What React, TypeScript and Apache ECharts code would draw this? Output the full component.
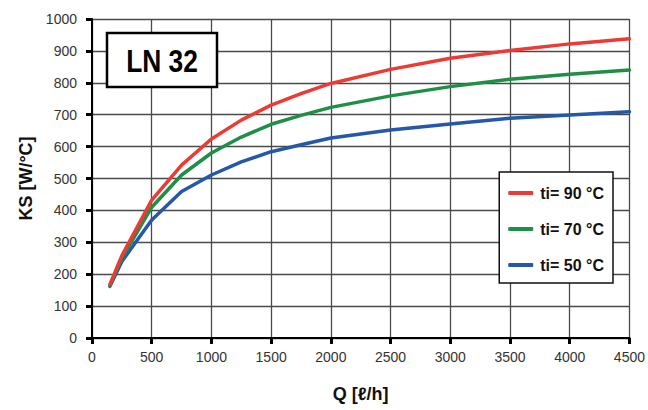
import React, { useEffect, useRef } from "react";
import * as echarts from "echarts";

const flowRates = [150, 250, 500, 750, 1000, 1250, 1500, 1750, 2000, 2500, 3000, 3500, 4000, 4500];
const ks90 = [168, 258, 432, 542, 624, 683, 730, 766, 798, 842, 877, 901, 922, 938];
const ks70 = [165, 250, 410, 511, 580, 630, 670, 698, 723, 759, 788, 811, 827, 840];
const ks50 = [162, 240, 370, 459, 511, 552, 584, 606, 627, 652, 671, 689, 699, 709];
const seriesNames = ["ti= 90 °C", "ti= 70 °C", "ti= 50 °C"];
const seriesColors = ["#ec3a35", "#1f8f48", "#2458a8"];
const modelLabel = "LN 32";
const xTitle = "Q [ℓ/h]";
const yTitle = "KS [W/°C]";

const font = "'Liberation Sans', Arial, sans-serif";

export default function App() {
  const ref = useRef<HTMLDivElement>(null);
  useEffect(() => {
    if (!ref.current) return;
    const chart = echarts.init(ref.current, undefined, { renderer: "svg" });
    const pairs = (ys: number[]) => flowRates.map((x, i) => [x, ys[i]]);
    const all = [ks90, ks70, ks50];
    chart.setOption({
      animation: false,
      backgroundColor: "#ffffff",
      grid: { left: 92, right: 18, top: 19, bottom: 72 },
      xAxis: {
        type: "value",
        min: 0,
        max: 4500,
        interval: 500,
        name: xTitle,
        nameLocation: "middle",
        nameGap: 47,
        nameTextStyle: { fontFamily: font, fontWeight: "bold", fontSize: 18, color: "#111" },
        axisLine: { show: true, lineStyle: { color: "#000", width: 2 } },
        axisTick: { show: true, length: 6, lineStyle: { color: "#000", width: 3 } },
        axisLabel: { fontFamily: font, fontSize: 14, color: "#333", margin: 12, formatter: (v: number) => String(v) },
        splitLine: { show: true, lineStyle: { color: "#4a4a4a", width: 1.3 } },
      },
      yAxis: {
        type: "value",
        min: 0,
        max: 1000,
        interval: 100,
        name: yTitle,
        nameLocation: "middle",
        nameGap: 57,
        nameRotate: 90,
        nameTextStyle: { fontFamily: font, fontWeight: "bold", fontSize: 18, color: "#111" },
        axisLine: { show: true, lineStyle: { color: "#000", width: 2 } },
        axisTick: { show: true, length: 6, lineStyle: { color: "#000", width: 3 } },
        axisLabel: { fontFamily: font, fontSize: 14, color: "#333", margin: 15, formatter: (v: number) => String(v) },
        splitLine: { show: true, lineStyle: { color: "#4a4a4a", width: 1.3 } },
      },
      legend: {
        orient: "vertical",
        right: 35,
        top: 172,
        backgroundColor: "#fff",
        borderColor: "#111",
        borderWidth: 1.5,
        borderRadius: 0,
        padding: [13, 9, 10, 9],
        itemGap: 20,
        itemWidth: 25,
        itemHeight: 4,
        icon: "roundRect",
        textStyle: { fontFamily: font, fontWeight: "bold", fontSize: 16, color: "#111", padding: [0, 0, 0, 2] },
        data: seriesNames,
      },
      series: seriesNames.map((n, i) => ({
        name: n,
        type: "line",
        data: pairs(all[i]),
        showSymbol: false,
        symbol: "none",
        smooth: false,
        color: seriesColors[i],
        lineStyle: { color: seriesColors[i], width: 3.5, cap: "round", join: "round" },
        z: 5 - i,
      })),
      graphic: [
        {
          type: "rect",
          shape: { x: 107, y: 33, width: 110, height: 54 },
          style: { fill: "#fff", stroke: "#000", lineWidth: 2.5 },
          z: 10,
        },
        {
          type: "text",
          x: 162,
          y: 61,
          scaleX: 0.85,
          style: {
            text: modelLabel,
            fontFamily: font,
            fontWeight: "bold",
            fontSize: 31,
            fill: "#000",
            align: "center",
            verticalAlign: "middle",
          },
          z: 11,
        },
      ],
    });
    return () => chart.dispose();
  }, []);
  return <div ref={ref} style={{ width: 648, height: 410, position: "absolute", left: 0, top: 0 }} />;
}
